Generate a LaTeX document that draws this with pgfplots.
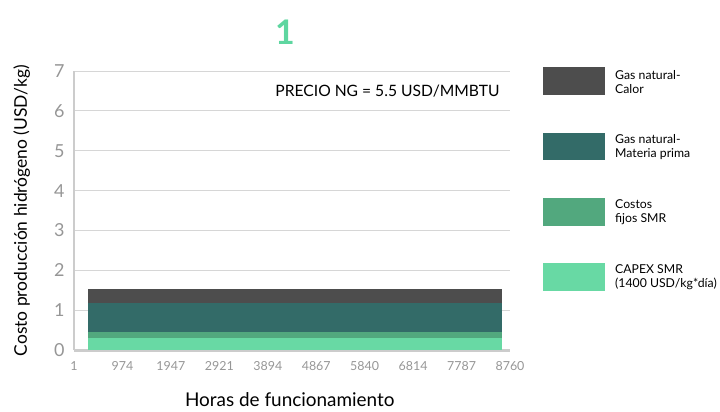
\documentclass[border=0pt]{standalone}
\usepackage{fontspec}
\setmainfont{Lato}
\usepackage{pgfplots}
\pgfplotsset{compat=1.18}
\definecolor{calor}{RGB}{77,77,77}
\definecolor{materia}{RGB}{51,107,104}
\definecolor{fijos}{RGB}{82,168,126}
\definecolor{capex}{RGB}{104,217,164}
\definecolor{titlegreen}{RGB}{94,214,160}
\definecolor{axisgray}{RGB}{204,204,204}
\definecolor{tickgray}{RGB}{150,150,150}

\begin{document}
\begin{tikzpicture}[x=1bp,y=1bp]
\path (0,0) rectangle (720,411);
\begin{axis}[
    at={(74bp,61bp)}, anchor=origin,
    scale only axis,
    width=436bp, height=279bp,
    xmin=0, xmax=9, ymin=0, ymax=7,
    stack plots=y,
    axis x line*=bottom, axis y line*=left,
    axis line style={draw=axisgray, line width=3pt, -},
    major tick length=0pt,
    /pgf/number format/assume math mode=true,
    xtick={0,...,9},
    xticklabels={1,974,1947,2921,3894,4867,5840,6814,7787,8760},
    ytick={0,...,7},
    x tick label style={font=\fontsize{12.5}{14}\selectfont, text=tickgray, yshift=-8bp},
    y tick label style={font=\fontsize{18}{20}\selectfont, text=tickgray, xshift=-6bp},
    ymajorgrids, grid style={draw=axisgray!80, line width=1pt},
    xlabel={Horas de funcionamiento},
    ylabel={Costo producción hidrógeno (USD/kg)},
    xlabel style={font=\fontsize{19}{21}\selectfont, at={(axis description cs:0.495,-0.179)}, anchor=center},
    ylabel style={font=\fontsize{17.5}{19}\selectfont, at={(axis description cs:-0.12,0.5)}, anchor=center},
    clip=false,
]
\addplot[fill=capex, draw=none] coordinates {(0.28,0.29) (8.84,0.29)} \closedcycle;
\addplot[fill=fijos, draw=none] coordinates {(0.28,0.17) (8.84,0.17)} \closedcycle;
\addplot[fill=materia, draw=none] coordinates {(0.28,0.71) (8.84,0.71)} \closedcycle;
\addplot[fill=calor, draw=none] coordinates {(0.28,0.35) (8.84,0.35)} \closedcycle;
\end{axis}
\node[font=\fontsize{34}{36}\selectfont\bfseries, text=titlegreen] at (285,379) {1};
\node[font=\fontsize{15.7}{17}\selectfont, anchor=east] at (503,320) {PRECIO NG = 5.5 USD/MMBTU};
% legend
\fill[calor] (543,316) rectangle (605,344);
\fill[materia] (543,251) rectangle (605,278);
\fill[fijos] (543,185) rectangle (605,213);
\fill[capex] (543,120) rectangle (605,148);
\begin{scope}[every node/.style={anchor=west, align=left, inner sep=0pt, font=\fontsize{12.3}{14.5}\selectfont}]
\node at (615,329) {Gas natural-\\Calor};
\node at (615,264) {Gas natural-\\Materia prima};
\node at (615,199) {Costos\\fijos SMR};
\node at (615,134) {CAPEX SMR\\(1400 USD/kg*día)};
\end{scope}
\end{tikzpicture}
\end{document}
